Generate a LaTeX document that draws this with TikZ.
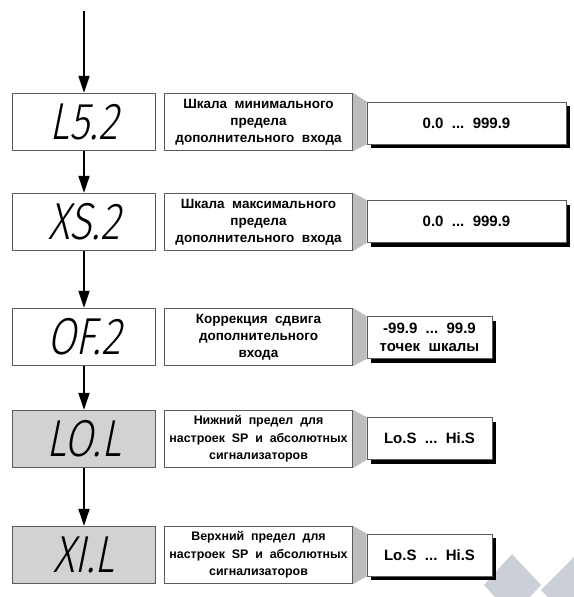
\documentclass[tikz,border=0pt]{standalone}
\usepackage{fontspec}
\setmainfont{Liberation Sans}
\newfontfamily\lcd{Fira Sans Light}[FakeSlant=0.2,FakeStretch=0.8]
\usetikzlibrary{arrows.meta,shadows,backgrounds}
\definecolor{frame}{HTML}{5A5A5A}
\definecolor{panel}{HTML}{D2D2D2}
\definecolor{wedge}{HTML}{BDBDBD}
\definecolor{wmgrey}{HTML}{CBCFD8}
\tikzset{
  disp/.style={draw=frame, line width=1.3pt, minimum width=143pt, minimum height=57pt,
    inner sep=0pt, font=\lcd\fontsize{52}{52}\selectfont},
  greydisp/.style={disp, fill=panel},
  desc/.style={draw=frame, line width=1.2pt, fill=white, minimum width=188pt,
    minimum height=57pt, align=center, inner sep=1pt, font=\bfseries\fontsize{13.5}{17}\selectfont},
  smalldesc/.style={desc, font=\bfseries\fontsize{12.4}{17.5}\selectfont},
  val/.style={draw=frame, line width=1pt, fill=white, minimum height=42pt, align=center,
    inner sep=1pt, font=\bfseries\fontsize{15}{18}\selectfont,
    drop shadow={shadow xshift=4pt, shadow yshift=-4pt, opacity=1, fill=black}},
  flow/.style={-{Triangle[length=17pt,width=11pt]}, line width=1.8pt},
}
\begin{document}
\begin{tikzpicture}[x=1pt,y=1pt]
\useasboundingbox (0,0) rectangle (573,-597);
% watermark
\fill[wmgrey] (484,-585) -- (512,-554) -- (541,-585) -- (512,-616) -- cycle;
\fill[wmgrey] (541,-590) -- (580,-551) -- (610,-590) -- (580,-629) -- cycle;

\coordinate (start) at (84,-11);
\node [disp] (d1) at (84,-122) {L5.2};
\node [disp] (d2) at (84,-222) {XS.2};
\node [disp] (d3) at (84,-337) {OF.2};
\node [greydisp] (d4) at (84,-439) {LO.L};
\node [greydisp] (d5) at (84,-555) {XI.L};

\node [desc] (t1) at (258.5,-122) {Шкала\ \ минимального\\предела\\дополнительного\ \ входа};
\node [desc] (t2) at (258.5,-222) {Шкала\ \ максимального\\предела\\дополнительного\ \ входа};
\node [desc] (t3) at (258.5,-337) {Коррекция\ \ сдвига\\дополнительного\\входа};
\node [smalldesc] (t4) at (258.5,-439) {Нижний\ \ предел\ \ для\\настроек\ \ SP\ \ и\ \ абсолютных\\сигнализаторов};
\node [smalldesc] (t5) at (258.5,-555) {Верхний\ \ предел\ \ для\\настроек\ \ SP\ \ и\ \ абсолютных\\сигнализаторов};

\node [val, minimum width=199pt] (v1) at (466.5,-123) {0.0\ \ ...\ \ 999.9};
\node [val, minimum width=199pt] (v2) at (466.5,-221.5) {0.0\ \ ...\ \ 999.9};
\node [val, minimum width=125pt] (v3) at (429.5,-337.5) {-99.9\ \ ...\ \ 99.9\\точек\ \ шкалы};
\node [val, minimum width=125pt] (v4) at (429.5,-438.5) {Lo.S\ \ ...\ \ Hi.S};
\node [val, minimum width=125pt] (v5) at (429.5,-555) {Lo.S\ \ ...\ \ Hi.S};

\begin{scope}[on background layer]
\foreach \i in {1,...,5}
  \fill[wedge] (t\i.north east) -- (v\i.north west) -- (v\i.south west) -- (t\i.south east) -- cycle;
\end{scope}

\draw[flow] (start) -- (d1);
\draw[flow] (d1) -- (d2);
\draw[flow] (d2) -- (d3);
\draw[flow] (d3) -- (d4);
\draw[flow] (d4) -- (d5);
\end{tikzpicture}
\end{document}
